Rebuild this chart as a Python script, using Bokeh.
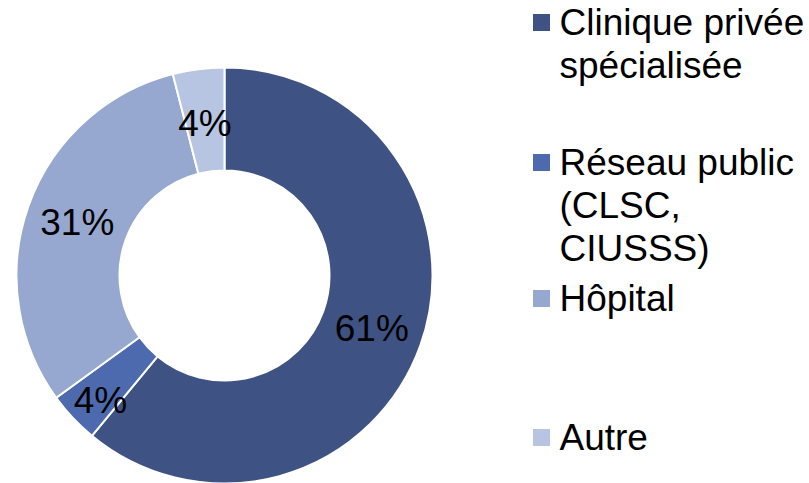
import math
from bokeh.plotting import figure
from bokeh.models import Range1d, ColumnDataSource
from bokeh.core.properties import value
from bokeh.embed import file_html
from bokeh.resources import INLINE

categories = ["Clinique privée spécialisée", "Réseau public (CLSC, CIUSSS)", "Hôpital", "Autre"]
legend_lines = [["Clinique privée", "spécialisée"], ["Réseau public", "(CLSC,", "CIUSSS)"], ["Hôpital"], ["Autre"]]
shares = [61, 4, 31, 4]
colors = ["#3F5284", "#4E6AAE", "#97A8D0", "#B8C5E2"]

W, H = 809, 483
p = figure(width=W, height=H, output_backend="svg", toolbar_location=None,
           x_range=Range1d(0, W), y_range=Range1d(483 - H, 483),
           min_border=0)
p.axis.visible = False
p.grid.visible = False
p.outline_line_color = None
p.background_fill_color = "white"

cx, cy = 224, 483 - 275
r_out, r_in = 208, 105
total = sum(shares)
nudge = [(0, 0), (-10, -18), (0, 0), (0, -3)]
starts, ends, lx, ly, labels = [], [], [], [], []
acc = 0.0
for i, s in enumerate(shares):
    a0 = math.pi / 2 - 2 * math.pi * acc / total
    a1 = math.pi / 2 - 2 * math.pi * (acc + s) / total
    starts.append(a0)
    ends.append(a1)
    mid = (a0 + a1) / 2
    rm = (r_out + r_in) / 2
    lx.append(cx + rm * math.cos(mid) + nudge[i][0])
    ly.append(cy + rm * math.sin(mid) + nudge[i][1])
    labels.append(f"{s}%")
    acc += s

src = ColumnDataSource(dict(start=starts, end=ends, color=colors, x=lx, y=ly, label=labels))
p.annular_wedge(x=cx, y=cy, inner_radius=r_in, outer_radius=r_out,
                start_angle="start", end_angle="end", direction="clock",
                fill_color="color", line_color="white", line_width=2, source=src)
p.text(x="x", y="y", text="label", source=src, text_align="center", text_baseline="middle",
       text_font=value("Liberation Sans"), text_font_size="37px", text_color="black")

# legend
leg_y = [22, 162, 298, 437]
line_h = 43
for i, lines in enumerate(legend_lines):
    y0 = 483 - leg_y[i]
    p.rect(x=[541], y=[y0], width=17, height=17, fill_color=colors[i], line_color=None)
    ys = [y0 - k * line_h for k in range(len(lines))]
    p.text(x=[559] * len(lines), y=ys, text=lines, text_align="left", text_baseline="middle",
           text_font=value("Liberation Sans"), text_font_size="37px", text_color="black")

open("out.html", "w").write(file_html(p, INLINE))
